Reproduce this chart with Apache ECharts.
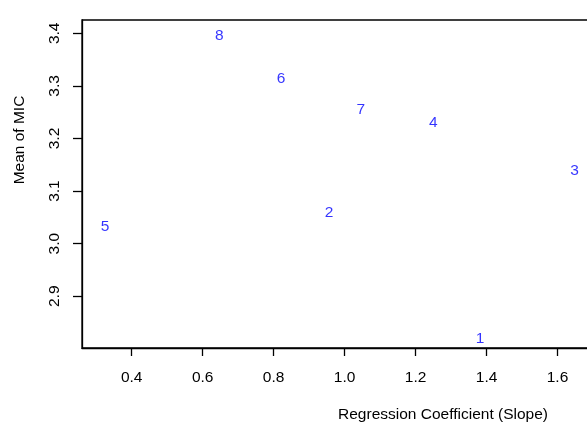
<!DOCTYPE html>
<html>
<head>
<meta charset="utf-8">
<script src="https://cdn.jsdelivr.net/npm/echarts@6/dist/echarts.min.js"></script>
<style>
  html, body { margin: 0; padding: 0; background: #fff; }
  #main { width: 587px; height: 425px; }
</style>
</head>
<body>
<div id="main"></div>
<script>
// point labels and their coordinates
var pointNames = ['1', '2', '3', '4', '5', '6', '7', '8'];
var slopeValues = [1.382, 0.956, 1.648, 1.250, 0.325, 0.821, 1.046, 0.647];
var micValues = [2.820, 3.059, 3.138, 3.230, 3.033, 3.314, 3.255, 3.395];

// tick labels
var xTicks = [0.4, 0.6, 0.8, 1.0, 1.2, 1.4, 1.6];
var yTicks = [2.9, 3.0, 3.1, 3.2, 3.3, 3.4];

var chart = echarts.init(document.getElementById('main'), null, { renderer: 'canvas' });

var points = pointNames.map(function (n, i) {
  return { name: n, value: [slopeValues[i], micValues[i]] };
});

var font = 'Liberation Sans, Arial, sans-serif';

var option = {
  backgroundColor: '#fff',
  animation: false,
  grid: {
    left: 82,
    top: 20,
    width: 511,
    height: 328,
    outerBoundsMode: 'none',
    containLabel: false,
    show: true,
    borderColor: '#000',
    borderWidth: 1.3
  },
  xAxis: {
    type: 'value',
    min: 0.26,
    max: 1.7,
    splitLine: { show: false },
    axisLine: { show: true, lineStyle: { color: '#000', width: 1.3 } },
    axisTick: {
      show: true, customValues: xTicks, length: 8,
      lineStyle: { color: '#000', width: 1.3 }
    },
    axisLabel: {
      customValues: xTicks,
      color: '#000', fontSize: 15.5, fontFamily: font, margin: 22,
      formatter: function (v) { return v.toFixed(1); }
    }
  },
  yAxis: {
    type: 'value',
    min: 2.8016,
    max: 3.4253,
    splitLine: { show: false },
    axisLine: { show: true, lineStyle: { color: '#000', width: 1.3 } },
    axisTick: {
      show: true, customValues: yTicks, length: 9,
      lineStyle: { color: '#000', width: 1.3 }
    },
    axisLabel: {
      customValues: yTicks,
      rotate: 90,
      color: '#000', fontSize: 15.5, fontFamily: font, margin: 19,
      formatter: function (v) { return v.toFixed(1); }
    }
  },
  series: [{
    type: 'scatter',
    data: points,
    symbolSize: 0,
    label: {
      show: true,
      position: 'inside',
      formatter: '{b}',
      color: '#0000ff',
      fontSize: 15.5,
      fontFamily: font
    }
  }],
  graphic: [
    {
      type: 'text',
      rotation: Math.PI / 2,
      x: 20, y: 140,
      style: {
        text: 'Mean of MIC',
        fill: '#000',
        font: '15.5px ' + font,
        align: 'center',
        verticalAlign: 'middle'
      }
    },
    {
      type: 'text',
      x: 443, y: 415,
      style: {
        text: 'Regression Coefficient (Slope)',
        fill: '#000',
        font: '15.5px ' + font,
        align: 'center',
        verticalAlign: 'middle'
      }
    }
  ]
};

chart.setOption(option);
</script>
</body>
</html>
